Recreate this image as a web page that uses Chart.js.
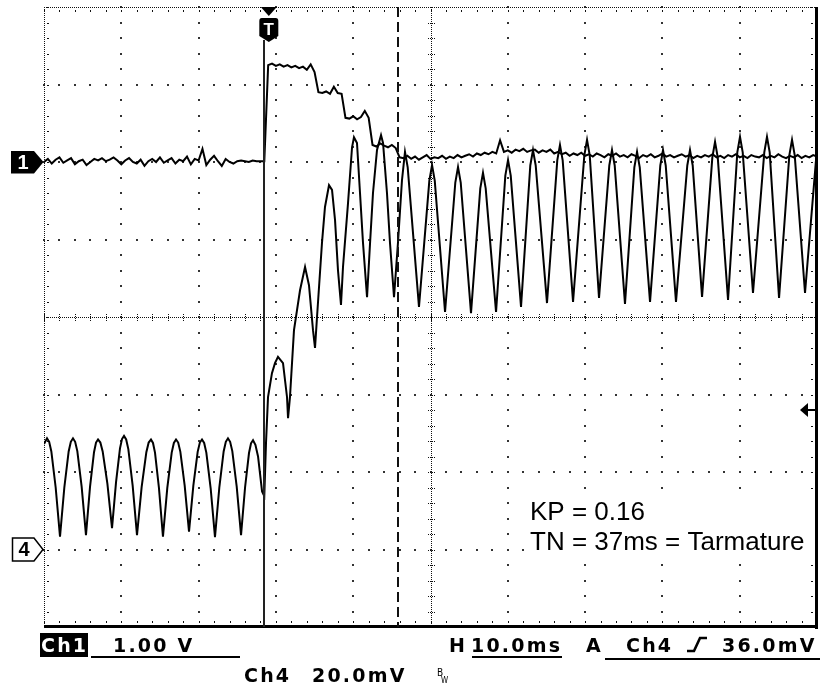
<!DOCTYPE html>
<html>
<head>
<meta charset="utf-8">
<script src="https://cdn.jsdelivr.net/npm/chart.js@4.4.1/dist/chart.umd.min.js"></script>
<style>
  html, body { margin: 0; padding: 0; background: #fff; }
  canvas { display: block; }
</style>
</head>
<body>
<canvas id="scope" width="824" height="686"></canvas>
<script>
// Horizontal: ms relative to the trigger point (10 divisions at 10.0 ms/div)
const timeRange = [-28.5, 71.5];
// Ch1 at 1.00 V/div, ground two divisions above centre
const ch1Range = [-6, 2];
// Ch4 at 20.0 mV/div, ground three divisions below centre
const ch4Range = [-20, 140];

// Ch1 samples (V), one every 0.5 ms starting at -28.5 ms
const ch1SampleStart = -28.5;
const ch1SampleStep = 0.5;
const ch1PreTrigger = [
  0.00, 0.04, -0.02, 0.03, 0.06, -0.01, 0.02, 0.05, -0.03, 0.01,
  0.03, -0.04, 0.00, 0.04, 0.02, 0.05, 0.01, 0.03, 0.06, 0.02,
  -0.03, 0.02, 0.05, 0.00, -0.02, 0.03, -0.05, 0.01, 0.04, 0.00,
  0.06, -0.01, 0.02, 0.05, -0.02, 0.03, 0.01, 0.07, -0.03, 0.04,
  0.02, 0.17, -0.04, 0.03, 0.08, 0.01, -0.05, 0.04, 0.00, -0.02,
  0.01, 0.02, 0.01, 0.00, 0.02, 0.01, 0.01, 0.01
];
const ch1PostTrigger = [
  1.25, 1.27, 1.24, 1.26, 1.23, 1.25, 1.22, 1.24, 1.21, 1.23,
  1.19, 1.26, 1.16, 0.90, 0.89, 0.91, 0.88, 0.97, 0.89, 0.88,
  0.57, 0.56, 0.59, 0.55, 0.58, 0.66, 0.57, 0.22, 0.20, 0.24,
  0.21, 0.19, 0.22, 0.18, 0.06, 0.05, 0.08, 0.04, 0.07, 0.03,
  0.06, 0.09, 0.04, 0.06, 0.05, 0.08, 0.04, 0.07, 0.05, 0.09,
  0.06, 0.08, 0.10, 0.07, 0.11, 0.09, 0.12, 0.10, 0.13, 0.11,
  0.28, 0.13, 0.15, 0.12, 0.16, 0.14, 0.17, 0.13, 0.15, 0.16,
  0.12, 0.15, 0.13, 0.16, 0.11, 0.13, 0.10, 0.12, 0.08, 0.11,
  0.09, 0.12, 0.08, 0.10, 0.07, 0.11, 0.09, 0.06, 0.10, 0.08,
  0.11, 0.07, 0.09, 0.06, 0.10, 0.08, 0.05, 0.09, 0.07, 0.10,
  0.06, 0.08, 0.11, 0.07, 0.09, 0.06, 0.08, 0.10, 0.07, 0.09,
  0.05, 0.08, 0.06, 0.09, 0.07, 0.10, 0.06, 0.08, 0.05, 0.09,
  0.07, 0.10, 0.06, 0.08, 0.05, 0.09, 0.07, 0.06, 0.09, 0.05,
  0.08, 0.06, 0.10, 0.07, 0.05, 0.08, 0.06, 0.09, 0.05, 0.08,
  0.06, 0.09, 0.07
];

// Ch4 trace vertices: time (ms) and level (mV)
const ch4Time = [
  -28.50, -28.11, -27.83, -27.55, -26.99, -26.43, -25.87, -25.31, -25.03, -24.75,
  -24.47, -24.19, -23.63, -23.07, -22.55, -22.03, -21.77, -21.51, -21.21, -20.91,
  -20.30, -19.70, -19.18, -18.67, -18.41, -18.15, -17.87, -17.59, -17.03, -16.47,
  -15.87, -15.26, -14.96, -14.66, -14.40, -14.14, -13.63, -13.11, -12.55, -11.98,
  -11.70, -11.42, -11.14, -10.86, -10.30, -9.74, -9.18, -8.62, -8.34, -8.06,
  -7.78, -7.50, -6.94, -6.38, -5.82, -5.26, -4.98, -4.70, -4.42, -4.14,
  -3.57, -3.01, -2.49, -1.98, -1.72, -1.46, -1.15, -0.81, -0.29, 0.00,
  0.22, 0.48, 0.99, 1.38, 1.77, 2.42, 2.94, 3.07, 3.32, 3.84,
  4.62, 5.27, 5.78, 6.30, 6.56, 6.82, 7.46, 7.85, 8.37, 8.76,
  9.15, 9.53, 9.92, 10.18, 10.83, 11.35, 11.60, 11.99, 12.38, 12.77,
  13.29, 13.68, 14.06, 14.58, 15.10, 15.36, 15.87, 16.26, 16.78, 17.29,
  17.81, 18.20, 18.55, 20.01, 21.35, 21.70, 22.05, 23.38, 24.71, 25.06,
  25.41, 26.74, 27.94, 28.29, 28.64, 29.98, 31.18, 31.53, 31.88, 33.21,
  34.41, 34.76, 35.11, 36.57, 37.90, 38.25, 38.60, 39.94, 41.40, 41.75,
  42.10, 43.30, 44.63, 44.98, 45.33, 46.66, 47.87, 48.22, 48.57, 49.90,
  51.23, 51.58, 51.93, 53.26, 54.72, 55.07, 55.42, 56.63, 57.96, 58.31,
  58.66, 59.99, 61.19, 61.54, 61.89, 63.22, 64.68, 65.03, 65.38, 66.59,
  67.92, 68.27, 68.62, 69.95, 71.50
];
const ch4Level = [
  27.2, 28.7, 27.8, 25.3, 16.0, 3.3, 16.0, 25.3, 27.8, 28.7,
  27.8, 25.4, 16.2, 3.7, 16.1, 25.1, 27.6, 28.4, 27.6, 25.3,
  17.0, 5.5, 17.4, 26.1, 28.5, 29.3, 28.4, 25.9, 16.5, 3.7,
  16.1, 25.1, 27.6, 28.4, 27.5, 25.0, 15.9, 3.3, 15.9, 25.0,
  27.5, 28.4, 27.6, 25.2, 16.5, 4.6, 16.5, 25.2, 27.6, 28.4,
  27.5, 25.0, 15.8, 3.2, 16.0, 25.3, 27.8, 28.7, 27.8, 25.4,
  16.2, 3.7, 16.0, 24.9, 27.4, 28.2, 27.0, 24.0, 15.0, 13.8,
  27.5, 39.3, 45.5, 48.1, 49.7, 48.1, 39.3, 33.9, 39.3, 56.6,
  66.9, 72.9, 68.2, 56.6, 52.0, 60.0, 79.1, 88.4, 94.0, 92.8,
  85.0, 72.1, 63.1, 72.9, 89.4, 103.8, 106.4, 104.9, 92.0, 79.1,
  65.1, 79.1, 92.0, 103.1, 106.9, 104.9, 92.0, 79.1, 65.1, 79.1,
  95.3, 102.6, 98.6, 62.6, 95.2, 99.2, 95.2, 61.3, 94.7, 98.7,
  94.7, 61.0, 93.2, 97.2, 93.2, 61.3, 96.5, 100.5, 96.5, 62.6,
  99.1, 103.1, 99.1, 63.6, 100.4, 104.4, 100.4, 63.9, 101.7, 105.7,
  101.7, 64.9, 99.1, 103.1, 99.1, 63.4, 98.6, 102.6, 98.6, 63.9,
  99.1, 103.1, 99.1, 63.9, 99.1, 103.1, 99.1, 65.2, 101.2, 105.2,
  101.2, 64.4, 102.5, 106.5, 102.5, 66.2, 102.5, 106.5, 102.5, 64.9,
  101.7, 105.7, 101.7, 66.2, 103.6
];

const triggerLevel = 36.0;   // mV on Ch4
const cursorTime = 17.3;     // ms after trigger
const noteLines = ['KP = 0.16', 'TN = 37ms = Tarmature'];
const statusRow1 = { ch: 'Ch1', volts: '1.00 V', h: 'H', time: '10.0ms', a: 'A', trigCh: 'Ch4', trigLevel: '36.0mV' };
const statusRow2 = { ch: 'Ch4', volts: '20.0mV' };

const ch1Points = ch1PreTrigger.concat(ch1PostTrigger).map((v, i) => ({ x: ch1SampleStart + i * ch1SampleStep, y: v }));
const ch4Points = ch4Time.map((t, i) => ({ x: t, y: ch4Level[i] }));

// Scope graticule: dotted divisions, fine centre axes, framed edges
const graticule = {
  id: 'graticule',
  beforeDraw(chart) {
    const ctx = chart.ctx;
    ctx.save();
    ctx.fillStyle = '#fff';
    ctx.fillRect(0, 0, chart.width, chart.height);
    ctx.restore();
  },
  beforeDatasetsDraw(chart) {
    const { ctx, chartArea: a } = chart;
    const xs = chart.scales.x, ys = chart.scales.y1;
    const xDiv = k => xs.getPixelForValue(timeRange[0] + k * 10);
    const yDiv = k => ys.getPixelForValue(ch1Range[1] - k);
    const dx = (xDiv(10) - xDiv(0)) / 50;
    const dy = (yDiv(8) - yDiv(0)) / 40;
    const px = v => Math.round(v);
    ctx.save();
    // interior division lines: one dot every fifth of a division
    ctx.fillStyle = '#333';
    for (let k = 1; k < 10; k++) {
      if (k === 5) continue;
      const x = xDiv(k);
      for (let m = 0; m <= 40; m++) ctx.fillRect(px(x) - 1, px(yDiv(0) + m * dy) - 1, 2, 2);
    }
    for (let k = 1; k < 8; k++) {
      if (k === 4) continue;
      const y = yDiv(k);
      for (let m = 0; m <= 50; m++) ctx.fillRect(px(xDiv(0) + m * dx) - 1, px(y) - 1, 2, 2);
    }
    // centre axes: fine dotted with minor ticks
    ctx.fillStyle = '#111';
    const cx = px(xDiv(5)), cy = px(yDiv(4));
    for (let y = px(a.top); y <= a.bottom; y += 2) ctx.fillRect(cx, y, 1, 1);
    for (let x = px(a.left); x <= a.right; x += 2) ctx.fillRect(x, cy, 1, 1);
    for (let m = 0; m <= 40; m++) {
      const y = px(yDiv(0) + m * dy);
      for (let o = -3; o <= 3; o += 2) ctx.fillRect(cx + o, y, 1, 1);
    }
    for (let m = 0; m <= 50; m++) {
      const x = px(xDiv(0) + m * dx);
      for (let o = -3; o <= 3; o += 2) ctx.fillRect(x, cy + o, 1, 1);
    }
    // top and left edges: fine dotted with inward ticks
    const top = px(a.top), left = px(a.left);
    for (let x = left; x <= a.right; x += 2) ctx.fillRect(x, top, 1, 1);
    for (let y = top; y <= a.bottom; y += 2) ctx.fillRect(left, y, 1, 1);
    for (let m = 0; m <= 50; m++) {
      const x = px(xDiv(0) + m * dx);
      ctx.fillRect(x, top + 3, 1, 2);
      ctx.fillRect(x, px(a.bottom) - 6, 1, 2);
    }
    for (let m = 0; m <= 40; m++) {
      const y = px(yDiv(0) + m * dy);
      ctx.fillRect(left + 3, y, 2, 1);
      ctx.fillRect(px(a.right) - 6, y, 2, 1);
    }
    ctx.restore();
  },
  afterDatasetsDraw(chart) {
    const { ctx, chartArea: a } = chart;
    const xs = chart.scales.x, y1 = chart.scales.y1, y4 = chart.scales.y4;
    ctx.save();
    // right and bottom frame
    ctx.fillStyle = '#000';
    ctx.fillRect(Math.round(a.right) - 2, Math.round(a.top), 3, Math.round(a.bottom - a.top) + 2);
    ctx.fillRect(Math.round(a.left), Math.round(a.bottom) - 2, Math.round(a.right - a.left) + 1, 3);

    // trigger position line and marker
    const tx = xs.getPixelForValue(0);
    ctx.fillStyle = '#222';
    ctx.fillRect(Math.round(tx) - 1, 40, 2, a.bottom - 40);
    const mx = tx + 4.5;
    ctx.fillStyle = '#000';
    ctx.beginPath();
    ctx.moveTo(mx - 8, 7); ctx.lineTo(mx + 8, 7); ctx.lineTo(mx, 16); ctx.closePath(); ctx.fill();
    ctx.beginPath();
    ctx.moveTo(mx - 7, 18); ctx.lineTo(mx + 7, 18);
    ctx.quadraticCurveTo(mx + 9.5, 18, mx + 9.5, 21);
    ctx.lineTo(mx + 9.5, 36); ctx.lineTo(mx, 42); ctx.lineTo(mx - 9.5, 36);
    ctx.lineTo(mx - 9.5, 21);
    ctx.quadraticCurveTo(mx - 9.5, 18, mx - 7, 18);
    ctx.closePath(); ctx.fill();
    ctx.fillStyle = '#fff';
    ctx.font = 'bold 17px "Liberation Sans", Arial, sans-serif';
    ctx.textAlign = 'center'; ctx.textBaseline = 'alphabetic';
    ctx.fillText('T', mx, 35);

    // time cursor (dashed)
    const cxp = Math.round(xs.getPixelForValue(cursorTime));
    ctx.strokeStyle = '#111';
    ctx.lineWidth = 2;
    ctx.setLineDash([10, 5]);
    ctx.beginPath(); ctx.moveTo(cxp, a.top); ctx.lineTo(cxp, a.bottom); ctx.stroke();
    ctx.setLineDash([]);

    // trigger level arrow on the right edge
    const ty = y4.getPixelForValue(triggerLevel);
    ctx.fillStyle = '#000';
    ctx.beginPath();
    ctx.moveTo(a.right - 17, ty); ctx.lineTo(a.right - 9, ty - 7); ctx.lineTo(a.right - 9, ty + 7);
    ctx.closePath(); ctx.fill();
    ctx.fillRect(a.right - 10, Math.round(ty) - 1, 9, 2);

    // channel ground markers
    const g1 = y1.getPixelForValue(0);
    ctx.beginPath();
    ctx.moveTo(11, g1 - 11); ctx.lineTo(34, g1 - 11); ctx.lineTo(43.5, g1);
    ctx.lineTo(34, g1 + 11.5); ctx.lineTo(11, g1 + 11.5); ctx.closePath();
    ctx.fill();
    ctx.fillStyle = '#fff';
    ctx.font = 'bold 20px "Liberation Sans", Arial, sans-serif';
    ctx.textAlign = 'center'; ctx.textBaseline = 'middle';
    ctx.fillText('1', 23, g1 + 1);

    const g4 = y4.getPixelForValue(0);
    ctx.fillStyle = '#fff';
    ctx.strokeStyle = '#000';
    ctx.lineWidth = 1.5;
    ctx.beginPath();
    ctx.moveTo(12.5, g4 - 11.5); ctx.lineTo(34, g4 - 11.5); ctx.lineTo(43, g4);
    ctx.lineTo(34, g4 + 11.5); ctx.lineTo(12.5, g4 + 11.5); ctx.closePath();
    ctx.fill(); ctx.stroke();
    ctx.fillStyle = '#000';
    ctx.font = 'bold 20px "Liberation Sans", Arial, sans-serif';
    ctx.fillText('4', 24, g4 + 1);

    // annotation
    ctx.fillStyle = '#fff';
    ctx.fillRect(528, 497, 286, 58);
    ctx.fillStyle = '#000';
    ctx.font = '26px "Liberation Sans", Arial, sans-serif';
    ctx.textAlign = 'left'; ctx.textBaseline = 'alphabetic';
    ctx.fillText(noteLines[0], 530, 520);
    ctx.fillText(noteLines[1], 530, 550);
    ctx.restore();
  },
  afterDraw(chart) {
    const ctx = chart.ctx;
    ctx.save();
    ctx.textAlign = 'left'; ctx.textBaseline = 'alphabetic';
    ctx.font = 'bold 19px "DejaVu Sans", sans-serif';
    if ('letterSpacing' in ctx) ctx.letterSpacing = '2.2px';
    // row 1
    ctx.fillStyle = '#000';
    ctx.fillRect(40, 633, 48, 24);
    ctx.fillStyle = '#fff';
    ctx.fillText(statusRow1.ch, 41, 652);
    ctx.fillStyle = '#000';
    ctx.fillText(statusRow1.volts, 113, 652);
    ctx.fillRect(91, 656, 149, 2);
    ctx.fillText(statusRow1.h, 449, 652);
    ctx.fillText(statusRow1.time, 471, 652);
    ctx.fillRect(472, 656, 90, 2);
    ctx.fillText(statusRow1.a, 586, 652);
    ctx.fillText(statusRow1.trigCh, 626, 652);
    ctx.fillText(statusRow1.trigLevel, 722, 652);
    ctx.fillRect(605, 658, 215, 2);
    // rising-edge slope symbol
    ctx.strokeStyle = '#000';
    ctx.lineWidth = 2.6;
    ctx.beginPath();
    ctx.moveTo(687, 651); ctx.lineTo(694, 651); ctx.lineTo(700, 638); ctx.lineTo(707, 638);
    ctx.stroke();
    // row 2
    ctx.fillText(statusRow2.ch, 244, 682);
    ctx.fillText(statusRow2.volts, 312, 682);
    if ('letterSpacing' in ctx) ctx.letterSpacing = '0px';
    ctx.font = '10px "DejaVu Sans Condensed", "DejaVu Sans", sans-serif';
    ctx.fillText('B', 437, 676);
    ctx.font = '8px "DejaVu Sans Condensed", "DejaVu Sans", sans-serif';
    ctx.fillText('W', 441, 683);
    ctx.restore();
  }
};

new Chart(document.getElementById('scope'), {
  type: 'line',
  data: {
    datasets: [
      {
        label: 'Ch4',
        data: ch4Points,
        yAxisID: 'y4',
        borderColor: '#000',
        borderWidth: 2,
        pointRadius: 0,
        tension: 0,
        fill: false
      },
      {
        label: 'Ch1',
        data: ch1Points,
        yAxisID: 'y1',
        borderColor: '#000',
        borderWidth: 2,
        pointRadius: 0,
        tension: 0,
        fill: false
      }
    ]
  },
  options: {
    responsive: false,
    animation: false,
    devicePixelRatio: 1,
    layout: { padding: { left: 44, right: 7, top: 7, bottom: 59 } },
    plugins: { legend: { display: false }, tooltip: { enabled: false } },
    scales: {
      x: { type: 'linear', min: timeRange[0], max: timeRange[1], display: false },
      y1: { type: 'linear', min: ch1Range[0], max: ch1Range[1], display: false },
      y4: { type: 'linear', min: ch4Range[0], max: ch4Range[1], display: false }
    }
  },
  plugins: [graticule]
});
</script>
</body>
</html>
